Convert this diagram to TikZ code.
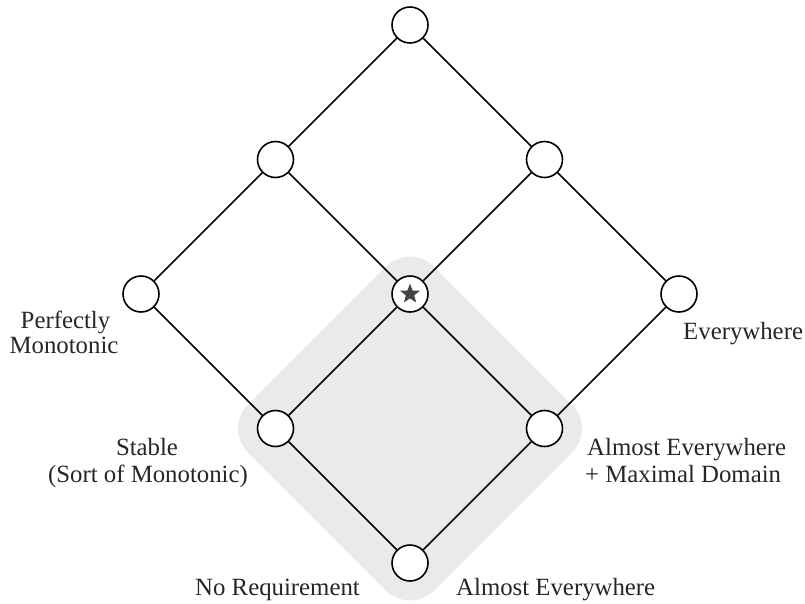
\documentclass[tikz,border=0pt]{standalone}
\usepackage{fontspec}
\setmainfont{Liberation Serif}
\usetikzlibrary{shapes.geometric}
\definecolor{regiongrey}{HTML}{EAEAEA}
\definecolor{stargrey}{HTML}{444444}
\tikzset{
  pt/.style={circle,draw=black,fill=white,line width=1.6pt,minimum size=36pt,inner sep=0pt},
  edge/.style={line width=1.6pt,black},
  starmark/.style={star,star points=5,star point ratio=2.4,fill=stargrey,minimum size=21pt,inner sep=0pt},
  lbl/.style={font=\fontsize{24.8}{27}\selectfont,inner sep=0pt,text=black!85}
}
\begin{document}
\begin{tikzpicture}[x=1pt,y=-1pt]
\useasboundingbox (0,0) rectangle (805,603);
% shaded region
\fill[regiongrey,rounded corners=34pt] (503,335.5) -- (596,428.5) -- (410,614.5) -- (224,428.5) -- (410,242.5) -- cycle;
% nodes
\node[pt] (t) at (410,25) {};
\node[pt] (a) at (275.5,159.5) {};
\node[pt] (b) at (544.5,159.5) {};
\node[pt] (c) at (141,294) {};
\node[pt] (s) at (410,294) {};
\node[pt] (d) at (679,294) {};
\node[pt] (e) at (275.5,428.5) {};
\node[pt] (f) at (544.5,428.5) {};
\node[pt] (g) at (410,563) {};
% edges
\draw[edge] (t) -- (a);
\draw[edge] (t) -- (b);
\draw[edge] (a) -- (c);
\draw[edge] (a) -- (s);
\draw[edge] (b) -- (s);
\draw[edge] (b) -- (d);
\draw[edge] (c) -- (e);
\draw[edge] (s) -- (e);
\draw[edge] (s) -- (f);
\draw[edge] (d) -- (f);
\draw[edge] (e) -- (g);
\draw[edge] (f) -- (g);
\node[starmark] (sm) at (s.center) {};
% labels
\node[lbl,anchor=base] (perf1) at (65.5,328) {Perfectly};
\node[lbl,anchor=base] (perf2) at (64,353) {Monotonic};
\node[lbl,anchor=base west] (every) at (683,339) {Everywhere};
\node[lbl,anchor=base] (stab1) at (147,455) {Stable};
\node[lbl,anchor=base] (stab2) at (148,482) {(Sort of Monotonic)};
\node[lbl,anchor=base west] (ae1) at (587,455) {Almost Everywhere};
\node[lbl,anchor=base west] (ae2) at (585,482) {+ Maximal Domain};
\node[lbl,anchor=base west] (noreq) at (195,595) {No Requirement};
\node[lbl,anchor=base west] (ae3) at (456,595) {Almost Everywhere};
\end{tikzpicture}
\end{document}
